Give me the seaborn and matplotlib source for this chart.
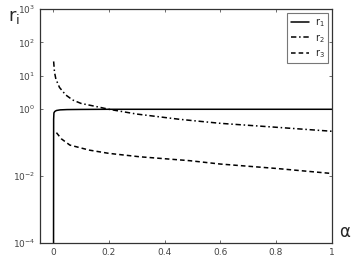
import matplotlib
matplotlib.use("Agg")
import matplotlib.pyplot as plt
import seaborn as sns
import pandas as pd
from matplotlib.lines import Line2D

alpha_r1 = [0.0015, 0.0018, 0.002, 0.003, 0.006, 0.012, 0.025, 0.05, 0.1, 0.2, 0.4, 0.6, 0.8, 1.0]
r1 = [1e-6, 1e-2, 0.5, 0.78, 0.86, 0.92, 0.96, 0.98, 0.99, 1.0, 1.0, 1.0, 1.0, 1.0]

alpha_r2 = [0.002, 0.005, 0.01, 0.023, 0.045, 0.07, 0.1, 0.167, 0.2, 0.3, 0.455, 0.6, 0.8, 1.0]
r2 = [27.0, 13.0, 8.0, 4.5, 2.7, 1.9, 1.5, 1.15, 1.0, 0.72, 0.50, 0.38, 0.29, 0.22]

alpha_r3 = [0.012, 0.03, 0.06, 0.13, 0.2, 0.31, 0.49, 0.6, 0.8, 1.0]
r3 = [0.20, 0.13, 0.085, 0.060, 0.048, 0.038, 0.029, 0.023, 0.017, 0.012]

yticks = [1e-4, 1e-2, 1e0, 1e1, 1e2, 1e3]
ytick_labels = [r"$10^{-4}$", r"$10^{-2}$", r"$10^{0}$", r"$10^{1}$", r"$10^{2}$", r"$10^{3}$"]
xticks = [0, 0.2, 0.4, 0.6, 0.8, 1]
xtick_labels = ["0", "0.2", "0.4", "0.6", "0.8", "1"]

df = pd.concat([
    pd.DataFrame({"alpha": alpha_r1, "r": r1, "series": "r1"}),
    pd.DataFrame({"alpha": alpha_r2, "r": r2, "series": "r2"}),
    pd.DataFrame({"alpha": alpha_r3, "r": r3, "series": "r3"}),
])

sns.set_style("ticks")
plt.rcParams["font.family"] = ["DejaVu Sans"]
plt.rcParams["mathtext.fontset"] = "dejavusans"

fig = plt.figure(figsize=(3.52, 2.61), dpi=100)
ax = fig.add_axes([0.1136, 0.069, 0.829, 0.8965])

dash2 = (3.5, 1.8, 1, 1.8)
dash3 = (3, 2)
sns.lineplot(data=df, x="alpha", y="r", hue="series", style="series",
             palette=["black", "black", "black"],
             dashes={"r1": "", "r2": dash2, "r3": dash3},
             linewidth=1.1, ax=ax, legend=False, sort=False)

ax.set_yscale("log")
ax.set_xlim(-0.047, 1.0)
ax.set_ylim(1e-4, 1e3)
ax.set_yticks(yticks)
ax.set_yticklabels(ytick_labels)
ax.minorticks_off()
ax.set_xticks(xticks)
ax.set_xticklabels(xtick_labels)
ax.tick_params(direction="in", length=2.5, labelsize=6.5, colors="#555555",
               top=True, right=True, width=0.6)
ax.tick_params(axis="both", labelcolor="#444444")
for s in ax.spines.values():
    s.set_color("#333333")
    s.set_linewidth(0.9)
ax.set_xlabel("")
ax.set_ylabel("")

fig.text(0.022, 0.935, r"r$_{\mathrm{i}}$", fontsize=13, ha="left", va="center")
fig.text(0.963, 0.11, "α", fontsize=12, ha="left", va="center")

handles = [
    Line2D([], [], color="black", lw=1.1),
    Line2D([], [], color="black", lw=1.1, dashes=dash2),
    Line2D([], [], color="black", lw=1.1, dashes=dash3),
]
leg = ax.legend(handles, [r"r$_1$", r"r$_2$", r"r$_3$"], loc="upper right",
                fontsize=7, frameon=True, fancybox=False, handlelength=1.9,
                borderpad=0.35, labelspacing=0.25, handletextpad=0.6,
                borderaxespad=0.0, bbox_to_anchor=(0.988, 0.982))
leg.get_frame().set_edgecolor("#555555")
leg.get_frame().set_linewidth(0.8)

fig.savefig("out.png", dpi=100)
